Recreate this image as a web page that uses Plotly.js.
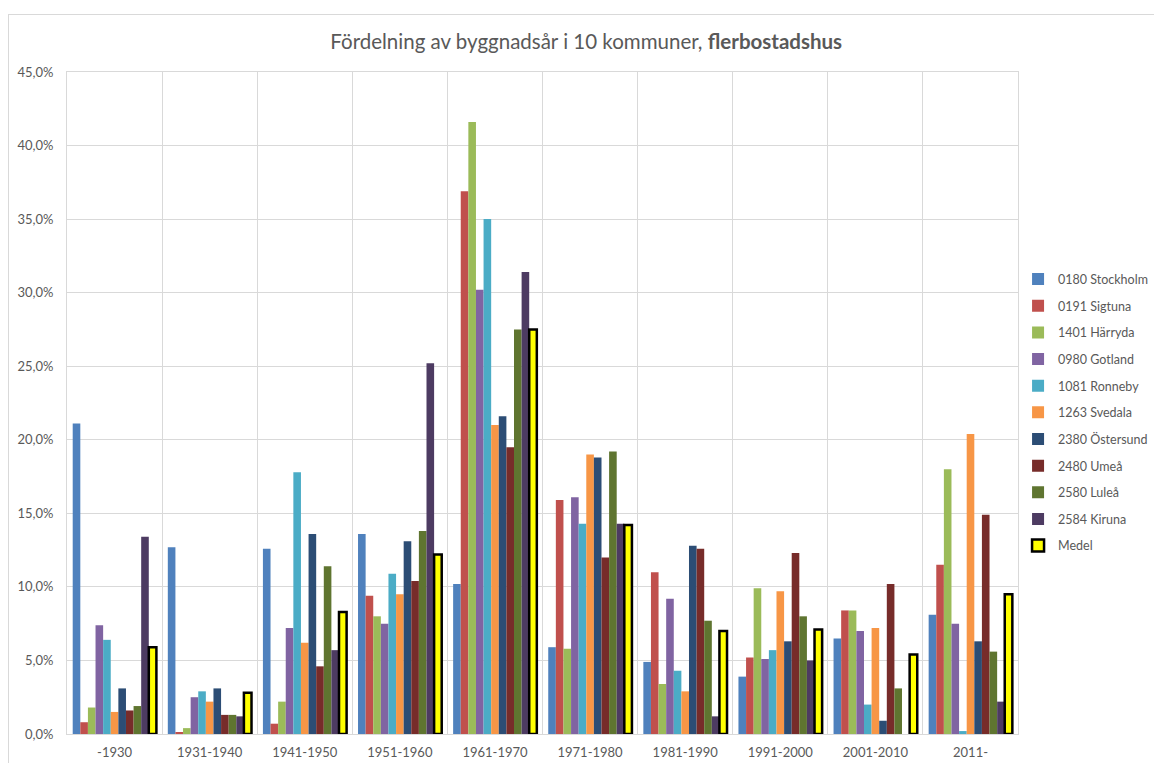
<!DOCTYPE html>
<html>
<head>
<meta charset="utf-8">
<script src="https://cdn.plot.ly/plotly-3.0.1.min.js"></script>
<style>
html,body{margin:0;padding:0;background:#fff;}
#wrap{position:relative;width:1154px;height:763px;overflow:hidden;}
#chart{width:1154px;height:763px;}
#frame{position:absolute;left:8px;top:14px;right:-10px;bottom:-10px;border-left:1px solid #D9D9D9;border-top:1px solid #D9D9D9;pointer-events:none;}
</style>
</head>
<body>
<div id="wrap"><div id="chart"></div><div id="frame"></div></div>
<script>
const categories = ["-1930","1931-1940","1941-1950","1951-1960","1961-1970","1971-1980","1981-1990","1991-2000","2001-2010","2011-"];

const stockholm = [21.1,12.7,12.6,13.6,10.2,5.9,4.9,3.9,6.5,8.1];
const sigtuna   = [0.8,0.1,0.7,9.4,36.9,15.9,11.0,5.2,8.4,11.5];
const harryda   = [1.8,0.4,2.2,8.0,41.6,5.8,3.4,9.9,8.4,18.0];
const gotland   = [7.4,2.5,7.2,7.5,30.2,16.1,9.2,5.1,7.0,7.5];
const ronneby   = [6.4,2.9,17.8,10.9,35.0,14.3,4.3,5.7,2.0,0.2];
const svedala   = [1.5,2.2,6.2,9.5,21.0,19.0,2.9,9.7,7.2,20.4];
const ostersund = [3.1,3.1,13.6,13.1,21.6,18.8,12.8,6.3,0.9,6.3];
const umea      = [1.6,1.3,4.6,10.4,19.5,12.0,12.6,12.3,10.2,14.9];
const lulea     = [1.9,1.3,11.4,13.8,27.5,19.2,7.7,8.0,3.1,5.6];
const kiruna    = [13.4,1.2,5.7,25.2,31.4,14.3,1.2,5.0,0.0,2.2];
const medel     = [5.9,2.8,8.3,12.2,27.5,14.2,7.0,7.1,5.4,9.5];

const seriesNames = ["0180 Stockholm","0191 Sigtuna","1401 Härryda","0980 Gotland","1081 Ronneby","1263 Svedala","2380 Östersund","2480 Umeå","2580 Luleå","2584 Kiruna","Medel"];
const seriesValues = [stockholm,sigtuna,harryda,gotland,ronneby,svedala,ostersund,umea,lulea,kiruna,medel];
const seriesColors = ["#4F81BD","#C0504D","#9BBB59","#8064A2","#4BACC6","#F79646","#2C4D75","#772C2A","#5F7530","#4D3B62","#FFFF00"];

const traces = seriesNames.map((name,i)=>{
  const isMedel = name === "Medel";
  return {
    type:"bar",
    name:name,
    x:categories,
    y:seriesValues[i],
    legendgroup:"g"+i,
    marker:{color:seriesColors[i], line:{color: isMedel ? "#000000" : seriesColors[i], width: isMedel ? 2.5 : 0}},
    hovertemplate:"%{x}: %{y:.1f}%<extra>"+name+"</extra>"
  };
});
// helper trace for category-boundary gridlines
traces.push({type:"scatter", x:[-0.5,9.5], y:[null,null], xaxis:"x2", showlegend:false, hoverinfo:"skip"});

const font = "Lato, 'Open Sans', sans-serif";
const layout = {
  width:1154, height:763,
  margin:{l:67, r:132, t:72, b:29},
  paper_bgcolor:"#ffffff", plot_bgcolor:"#ffffff",
  separators:", ",
  font:{family:font, size:13, color:"#595959"},
  title:{text:"Fördelning av byggnadsår i 10 kommuner, <b>flerbostadshus</b>", font:{family:font, size:20.5, color:"#595959"}, x:0.508, xref:"container", y:0.945, yref:"container", yanchor:"middle"},
  barmode:"group", bargap:0.12, bargroupgap:0,
  xaxis:{type:"category", showgrid:false, showline:true, linecolor:"#D9D9D9", linewidth:1, mirror:true, ticks:"", ticklabelstandoff:6, tickfont:{size:13, color:"#595959"}, fixedrange:true},
  xaxis2:{overlaying:"x", range:[-0.5,9.5], tick0:-0.5, dtick:1, showgrid:true, gridcolor:"#D9D9D9", gridwidth:1, showticklabels:false, ticks:"", zeroline:false, side:"bottom"},
  yaxis:{range:[0,45], dtick:5, tickformat:".1f", ticksuffix:"%", showgrid:true, gridcolor:"#D9D9D9", gridwidth:1, showline:true, linecolor:"#D9D9D9", mirror:true, zeroline:false, ticks:"", ticklabelstandoff:10, tickfont:{size:13, color:"#595959"}},
  legend:{xref:"container", x:0.8822, xanchor:"left", yref:"paper", y:0.4857, yanchor:"middle", traceorder:"grouped", tracegroupgap:7.4, font:{size:12.5, color:"#595959"}, itemwidth:30, bgcolor:"rgba(0,0,0,0)"},
  showlegend:true
};

Plotly.newPlot("chart", traces, layout, {displayModeBar:false});
</script>
</body>
</html>
